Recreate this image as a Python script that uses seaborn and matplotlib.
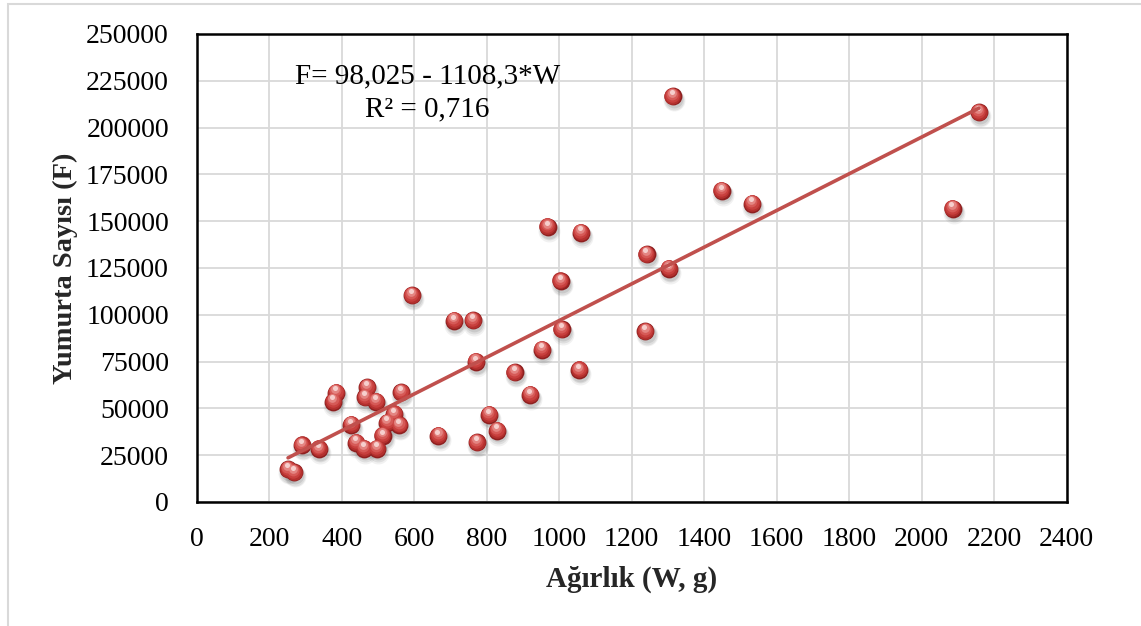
import numpy as np
import pandas as pd
import matplotlib
matplotlib.use("Agg")
import matplotlib.pyplot as plt
from matplotlib.transforms import ScaledTranslation
from matplotlib.patches import Rectangle
import seaborn as sns

# Body weight (g) and fecundity (egg count) of individual fish
weight = [252, 268, 290, 337, 385, 377, 426, 440, 462, 497, 470, 465, 495, 513,
          526, 545, 559, 564, 594, 667, 710, 762, 770, 773, 807, 829, 877, 920,
          952, 968, 1004, 1007, 1055, 1060, 1238, 1241, 1303, 1313, 1448, 1532,
          2085, 2158]
eggs = [17500, 15900, 30400, 28300, 58400, 53600, 41300, 31700, 28500, 28500,
        61300, 55900, 53600, 35300, 42400, 47000, 41100, 58600, 110400, 35300,
        96700, 97000, 74800, 31900, 46500, 38100, 69300, 57200, 81400, 146900,
        118000, 92200, 70500, 143900, 91200, 132300, 124500, 216700, 166300,
        159400, 156700, 208200]

# Fitted regression F = 98.025*W - 1108.3
slope = 98.025
intercept = -1108.3
equation_text = "F= 98,025 - 1108,3*W"
r2_text = "R² = 0,716"

x_ticks = list(range(0, 2401, 200))
y_ticks = list(range(0, 250001, 25000))
x_label = "Ağırlık (W, g)"
y_label = "Yumurta Sayısı (F)"

df = pd.DataFrame({"W": weight, "F": eggs})
fit_x = np.array([min(weight), max(weight)])
fit_df = pd.DataFrame({"W": fit_x, "F": slope * fit_x + intercept})

sns.set_style("white")
plt.rcParams["font.family"] = ["Liberation Serif", "DejaVu Serif"]

fig = plt.figure(figsize=(11.41, 6.26), dpi=100)
ax = fig.add_axes([0.1724, 0.1981, 0.9349 - 0.1724, 0.9457 - 0.1981])

# light outer chart-area border
fig.patches.append(Rectangle((8 / 1141, -0.01), 1.2, 1 - 4 / 626 + 0.01,
                             transform=fig.transFigure, fill=False,
                             edgecolor="#d9d9d9", linewidth=1.5, zorder=0))


def shifted(coll, dx_pt, dy_pt):
    coll.set_offset_transform(ax.transData +
                              ScaledTranslation(dx_pt / 72, dy_pt / 72, fig.dpi_scale_trans))


# soft drop shadow under each sphere
for s, a, dy in [(250, 0.08, -3.0), (205, 0.12, -2.5), (165, 0.15, -2.0)]:
    sns.scatterplot(data=df, x="W", y="F", s=s, color="#555555", alpha=a,
                    linewidth=0, ax=ax, zorder=2, legend=False)
    shifted(ax.collections[-1], 0.8, dy)

# sphere body with a light-to-dark shading toward the upper left
base_d = 165
layers = [
    (1.00, "#8e2020", 0.0, 0.0),
    (0.86, "#b3302e", -0.2, 0.5),
    (0.66, "#c8403e", -0.4, 1.1),
    (0.44, "#d65a57", -0.6, 1.8),
    (0.24, "#e48582", -0.7, 2.5),
    (0.08, "#f6cfcd", -0.8, 3.0),
]
for frac, col, dx, dy in layers:
    sns.scatterplot(data=df, x="W", y="F", s=base_d * frac, color=col,
                    linewidth=0, ax=ax, zorder=3, legend=False)
    shifted(ax.collections[-1], dx, dy)

# regression line
sns.lineplot(data=fit_df, x="W", y="F", color="#c0504d", linewidth=2.6,
             ax=ax, zorder=4, legend=False)

ax.set_xlim(0, 2400)
ax.set_ylim(0, 250000)
ax.set_xticks(x_ticks)
ax.set_yticks(y_ticks)
ax.set_xticklabels([str(v) for v in x_ticks])
ax.set_yticklabels([str(v) for v in y_ticks])
ax.tick_params(axis="both", length=0, labelsize=20, colors="black")
ax.tick_params(axis="x", pad=18)
ax.tick_params(axis="y", pad=20)

ax.grid(True, color="#d9d9d9", linewidth=1.3)
ax.set_axisbelow(True)
for sp in ax.spines.values():
    sp.set_visible(True)
    sp.set_color("black")
    sp.set_linewidth(1.8)

ax.set_xlabel(x_label, fontsize=21, fontweight="bold", labelpad=10)
ax.set_ylabel(y_label, fontsize=20.5, fontweight="bold", labelpad=6)

ax.text(0.265, 0.91, equation_text, transform=ax.transAxes, ha="center",
        va="center", fontsize=21, color="black")
ax.text(0.265, 0.838, r2_text, transform=ax.transAxes, ha="center",
        va="center", fontsize=21, color="black")

fig.savefig("out.png", dpi=100, facecolor="white")
